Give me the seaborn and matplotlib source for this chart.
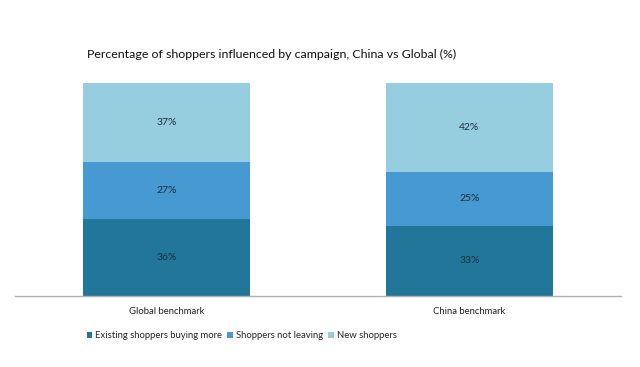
import matplotlib
matplotlib.use("Agg")
import matplotlib.pyplot as plt
import seaborn as sns
import pandas as pd
import numpy as np

categories = ["Global benchmark", "China benchmark"]
series_names = ["Existing shoppers buying more", "Shoppers not leaving", "New shoppers"]
existing = [36, 33]
not_leaving = [27, 25]
new_shoppers = [37, 42]
colors = ["#227699", "#4699D1", "#97CEDF"]

sns.set_theme(style="white")
plt.rcParams['font.family'] = ['Lato', 'DejaVu Sans']

fig = plt.figure(figsize=(6.4, 3.67), dpi=100)
ax = fig.add_axes([15/640, 1-296/367, 606/640, 213.3/367])

series = [existing, not_leaving, new_shoppers]
cum = np.cumsum(np.array(series), axis=0)
# draw from top (full) to bottom so lower segments overlay
for i in range(len(series) - 1, -1, -1):
    df = pd.DataFrame({"cat": categories, "val": cum[i]})
    sns.barplot(data=df, x="cat", y="val", color=colors[i], width=0.551,
                saturation=1, ax=ax, label=series_names[i], linewidth=0,
                edgecolor="none")

if ax.get_legend() is not None:
    ax.get_legend().remove()

for j, c in enumerate(categories):
    base = 0
    for i, s in enumerate(series):
        ax.text(j, base + s[j] / 2, f"{s[j]}%", ha="center", va="center",
                fontsize=7.5, color="#1d2f3c")
        base += s[j]

ax.set_xlim(-0.5, 1.5)
ax.set_ylim(0, 100)
ax.set_xlabel("")
ax.set_ylabel("")
ax.set_yticks([])
ax.tick_params(axis="x", length=0, pad=8, labelsize=6.8, labelcolor="#222222")
for sp in ["top", "left", "right"]:
    ax.spines[sp].set_visible(False)
ax.spines["bottom"].set_color("#b0b0b0")
ax.spines["bottom"].set_linewidth(1)

fig.text(87/640, 1-54/367, "Percentage of shoppers influenced by campaign, China vs Global (%)",
         fontsize=8.9, color="#111111", ha="left", va="center")

handles, labels = ax.get_legend_handles_labels()
order = [labels.index(n) for n in series_names]
leg = fig.legend([handles[k] for k in order], [labels[k] for k in order],
                 loc="center left", bbox_to_anchor=(78/640, 1-336/367), ncol=3,
                 frameon=False, fontsize=6.8, handlelength=0.6, handleheight=0.6,
                 handletextpad=0.3, columnspacing=0.55)

fig.savefig("out.png", dpi=100, facecolor="white")
